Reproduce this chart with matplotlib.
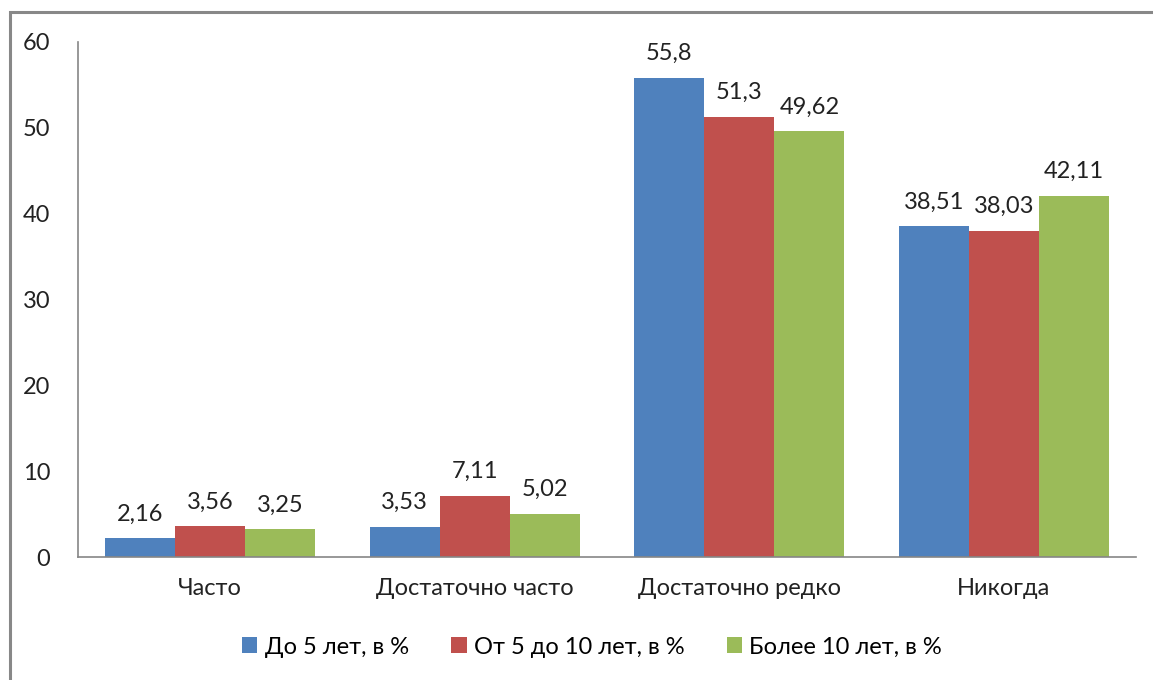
import numpy as np
import matplotlib
matplotlib.use("Agg")
from matplotlib import pyplot as plt
from matplotlib.patches import Rectangle

categories = ["Часто", "Достаточно часто", "Достаточно редко", "Никогда"]
series_names = ["До 5 лет, в %", "От 5 до 10 лет, в %", "Более 10 лет, в %"]
under5 = [2.16, 3.53, 55.8, 38.51]
from5to10 = [3.56, 7.11, 51.3, 38.03]
over10 = [3.25, 5.02, 49.62, 42.11]
colors = ["#4F81BD", "#C0504D", "#9BBB59"]


def fmt(v):
    return ("%g" % v).replace(".", ",")


def main():
    plt.rcParams['font.family'] = ['Lato', 'DejaVu Sans']
    fs = 17
    fig = plt.figure(figsize=(11.53, 6.80), dpi=100)
    ax = fig.add_axes([78 / 1153, 1 - 557 / 680, (1136 - 78) / 1153, (557 - 42) / 680])

    x = np.arange(len(categories))
    w = 0.265
    for i, (vals, name) in enumerate(zip([under5, from5to10, over10], series_names)):
        pos = x + (i - 1) * w
        ax.bar(pos, vals, width=w, color=colors[i], label=name, zorder=2)
        for p, v in zip(pos, vals):
            ax.text(p, v + 1.6, fmt(v), ha='center', va='bottom', fontsize=fs, color='#222222')

    ax.set_xlim(-0.5, len(categories) - 0.5)
    ax.set_ylim(0, 60)
    ax.set_yticks(range(0, 61, 10))
    ax.set_xticks(x)
    ax.set_xticklabels(categories)
    ax.tick_params(axis='both', length=0, labelsize=fs, colors='#222222')
    ax.tick_params(axis='y', pad=20)
    ax.tick_params(axis='x', pad=15)
    for s in ['top', 'right']:
        ax.spines[s].set_visible(False)
    for s in ['left', 'bottom']:
        ax.spines[s].set_color('#868686')
        ax.spines[s].set_linewidth(1.2)

    ax.legend(loc='center', bbox_to_anchor=(592 / 1153, 1 - 647 / 680), bbox_transform=fig.transFigure,
              ncol=3, frameon=False, fontsize=fs, handlelength=0.65, handleheight=0.65,
              handletextpad=0.3, columnspacing=1.8)

    # outer chart frame (right and bottom fall outside the picture)
    fig.add_artist(Rectangle((10 / 1153, -0.1), 1.2, 1 - 12 / 680 + 0.1, transform=fig.transFigure,
                             fill=False, edgecolor='#888888', linewidth=2.2))

    fig.savefig("out.png", dpi=100)


if __name__ == '__main__':
    main()
